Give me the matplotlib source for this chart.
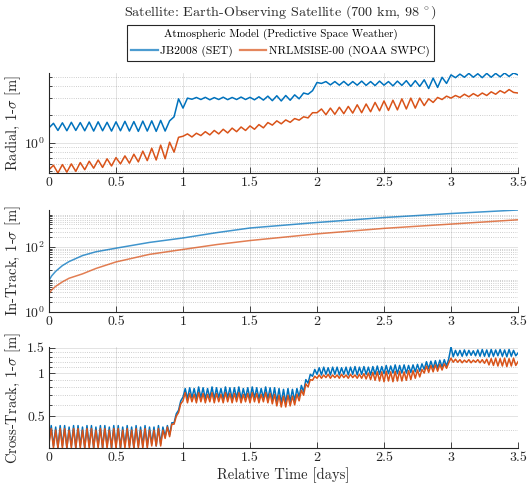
import numpy as np
import matplotlib
matplotlib.use("Agg")
import matplotlib.pyplot as plt
from matplotlib.ticker import FixedLocator, FixedFormatter, NullFormatter
from matplotlib.lines import Line2D

plt.rcParams.update({
    "font.family": "cmr10",
    "mathtext.fontset": "cm",
    "axes.formatter.use_mathtext": True,
    "axes.unicode_minus": False,
})

BLUE = "#0072BD"
ORANGE = "#D95319"
AX_COL = "#262626"

# radial 1-sigma [m], sampled every 1/30 day (half orbit)
radial_dt = 1 / 30
radial_jb = [
    1.45, 1.62, 1.36, 1.64, 1.35, 1.66, 1.36, 1.65, 1.35, 1.67, 1.34, 1.68, 1.35, 1.66,
    1.34, 1.68, 1.35, 1.70, 1.34, 1.69, 1.33, 1.71, 1.34, 1.72, 1.33, 1.74, 1.34, 1.72,
    1.90, 2.95, 2.35, 3.00, 2.92, 3.05,
    2.90, 3.06, 2.88, 3.04, 2.90, 3.07, 2.89, 3.05, 2.90, 3.08, 2.90, 3.06, 2.88, 3.10,
    2.86, 3.15, 2.82, 3.18, 2.80, 3.20, 2.85, 3.25, 2.95, 3.40, 3.30, 3.60,
    4.40, 4.30, 4.50, 4.15, 4.50, 4.12, 4.52, 4.10, 4.50, 4.12, 4.55, 4.10,
    4.50, 4.08, 4.55, 4.12, 4.50, 4.05, 4.55, 4.10, 4.60, 4.00, 4.60, 4.00,
    4.70, 3.80, 4.90, 3.90, 5.00, 4.30,
    5.30, 4.95, 5.40, 5.00, 5.50, 5.00, 5.45, 4.95, 5.50, 5.00, 5.50, 5.05, 5.55, 5.10,
    5.55, 5.30,
]
radial_nrl = [
    0.52, 0.58, 0.48, 0.59, 0.49, 0.60, 0.50, 0.62, 0.52, 0.64, 0.54, 0.66, 0.55, 0.68,
    0.57, 0.70, 0.60, 0.73, 0.61, 0.76, 0.63, 0.82, 0.65, 0.88, 0.66, 0.95, 0.68, 1.02,
    0.80, 1.15, 1.18, 1.25, 1.16, 1.27, 1.20, 1.32, 1.22, 1.36, 1.25, 1.40, 1.28, 1.44,
    1.32, 1.48, 1.36, 1.52, 1.40, 1.57, 1.45, 1.65, 1.55, 1.72, 1.60, 1.76, 1.66, 1.82,
    1.75, 1.90, 1.85, 2.10,
    2.10, 2.30, 2.00, 2.35, 2.02, 2.40, 2.05, 2.45, 2.08, 2.55, 2.10, 2.60, 2.15, 2.70,
    2.20, 2.80, 2.22, 2.85, 2.25, 2.95, 2.30, 3.00, 2.35, 3.00, 2.50, 2.95, 2.70, 3.05,
    2.90, 3.15,
    3.00, 3.20, 3.05, 3.30, 3.10, 3.35, 3.15, 3.40, 3.20, 3.50, 3.30, 3.60, 3.40, 3.70,
    3.45, 3.40,
]

# in-track 1-sigma [m]
intrack_days = [0, 0.02, 0.05, 0.1, 0.15, 0.25, 0.35, 0.5, 0.75, 1.0, 1.25, 1.5, 2.0, 2.5, 3.0, 3.5]
intrack_jb = [9.5, 13, 18, 27, 36, 55, 72, 93, 140, 192, 280, 390, 577, 820, 1090, 1400]
intrack_nrl = [3.7, 4.8, 6.2, 8.5, 11, 15, 22, 35, 60, 85, 120, 160, 257, 380, 515, 700]

# cross-track 1-sigma [m], sampled every 1/60 day
cross_dt = 1 / 60
cross_jb = [
    0.33, 0.43, 0.31, 0.42, 0.30, 0.43, 0.31, 0.43, 0.30, 0.42,
    0.31, 0.43, 0.30, 0.43, 0.31, 0.42, 0.30, 0.43, 0.31, 0.43,
    0.30, 0.42, 0.31, 0.43, 0.30, 0.43, 0.31, 0.42, 0.30, 0.43,
    0.31, 0.43, 0.30, 0.42, 0.31, 0.43, 0.31, 0.42, 0.30, 0.43,
    0.31, 0.42, 0.31, 0.43, 0.31, 0.42, 0.32, 0.42, 0.31, 0.43,
    0.32, 0.42,
    0.36, 0.43, 0.37, 0.45, 0.45, 0.52, 0.55, 0.64, 0.68, 0.78,
    0.66, 0.79, 0.67, 0.78, 0.66, 0.80, 0.67, 0.79, 0.66, 0.78,
    0.67, 0.80, 0.66, 0.79, 0.67, 0.78, 0.66, 0.80, 0.67, 0.79,
    0.66, 0.79, 0.67, 0.80, 0.66, 0.78, 0.67, 0.79, 0.66, 0.80,
    0.67, 0.79, 0.66, 0.78, 0.67, 0.80, 0.66, 0.79, 0.65, 0.79,
    0.63, 0.78, 0.62, 0.77, 0.62, 0.78, 0.63, 0.77, 0.64,
    0.78, 0.68, 0.82, 0.74, 0.90, 0.85, 0.98, 0.95, 1.06, 0.98, 1.09,
    0.97, 1.10, 0.98, 1.09, 0.97, 1.10, 0.98, 1.10, 0.97, 1.09,
    0.98, 1.10, 0.97, 1.10, 0.98, 1.11, 0.97, 1.10, 0.98, 1.11,
    0.98, 1.10, 0.97, 1.11, 0.98, 1.12, 0.98, 1.11,
    0.99, 1.13, 0.99, 1.12, 1.00, 1.14, 0.99, 1.13, 1.00, 1.14,
    1.00, 1.13, 1.01, 1.14, 1.02, 1.15, 1.03, 1.16,
    1.06, 1.20, 1.07, 1.21, 1.08, 1.22, 1.08, 1.23, 1.10, 1.24, 1.12, 1.26,
    1.52, 1.30, 1.44,
    1.32, 1.44, 1.31, 1.45, 1.32, 1.44, 1.33, 1.43, 1.32, 1.45,
    1.31, 1.46, 1.31, 1.45, 1.30, 1.46, 1.31, 1.45, 1.32, 1.46,
    1.31, 1.45, 1.30, 1.46, 1.31, 1.44, 1.32, 1.38,
]
cross_nrl = [
    0.32, 0.41, 0.30, 0.40, 0.30, 0.41, 0.30, 0.41, 0.30, 0.40,
    0.30, 0.41, 0.30, 0.41, 0.30, 0.40, 0.30, 0.41, 0.30, 0.41,
    0.30, 0.40, 0.30, 0.41, 0.30, 0.41, 0.30, 0.40, 0.30, 0.41,
    0.30, 0.41, 0.30, 0.40, 0.30, 0.41, 0.30, 0.40, 0.30, 0.41,
    0.30, 0.40, 0.30, 0.41, 0.30, 0.40, 0.31, 0.40, 0.31, 0.41,
    0.31, 0.40,
    0.35, 0.42, 0.36, 0.44, 0.44, 0.50, 0.53, 0.61, 0.64, 0.73,
    0.62, 0.72, 0.63, 0.71, 0.62, 0.73, 0.63, 0.72, 0.62, 0.71,
    0.63, 0.73, 0.62, 0.72, 0.63, 0.71, 0.62, 0.73, 0.63, 0.72,
    0.62, 0.72, 0.63, 0.73, 0.62, 0.71, 0.63, 0.72, 0.62, 0.73,
    0.63, 0.72, 0.62, 0.71, 0.63, 0.73, 0.62, 0.72, 0.61, 0.71,
    0.59, 0.70, 0.58, 0.69, 0.58, 0.70, 0.59, 0.69, 0.60,
    0.71, 0.64, 0.76, 0.70, 0.84, 0.80, 0.90, 0.89, 0.95, 0.92, 0.97,
    0.92, 0.97, 0.93, 0.98, 0.92, 0.97, 0.93, 0.97, 0.92, 0.98,
    0.93, 0.97, 0.92, 0.98, 0.93, 0.97, 0.92, 0.98, 0.92, 0.99,
    0.91, 1.00, 0.90, 1.01, 0.89, 1.02, 0.88, 1.02,
    0.87, 1.03, 0.88, 1.02, 0.87, 1.03, 0.88, 1.03, 0.88, 1.02,
    0.89, 1.04, 0.90, 1.04, 0.92, 1.05, 0.94, 1.06,
    1.00, 1.12, 1.01, 1.13, 1.02, 1.14, 1.03, 1.15, 1.05, 1.16, 1.08, 1.18,
    1.27, 1.19, 1.25,
    1.19, 1.24, 1.18, 1.23, 1.19, 1.24, 1.18, 1.23, 1.19, 1.24,
    1.18, 1.24, 1.17, 1.25, 1.14, 1.26, 1.13, 1.27, 1.12, 1.26,
    1.12, 1.27, 1.11, 1.26, 1.12, 1.27, 1.13, 1.20,
]

labels = ["JB2008 (SET)", "NRLMSISE-00 (NOAA SWPC)"]
xticks = [0, 0.5, 1, 1.5, 2, 2.5, 3, 3.5]
xticklabels = ["0", "0.5", "1", "1.5", "2", "2.5", "3", "3.5"]

t_rad = np.arange(len(radial_jb)) * radial_dt
t_cross = np.arange(len(cross_jb)) * cross_dt

W, H = 528, 487
fig = plt.figure(figsize=(W / 100, H / 100), dpi=100)


def add_ax(top, bottom):
    return fig.add_axes([49 / W, 1 - bottom / H, (518 - 49) / W, (bottom - top) / H])


ax1 = add_ax(73, 173)
ax2 = add_ax(210, 312)
ax3 = add_ax(347, 448)

lw = 1.1
ax1.plot(t_rad, radial_jb, color=BLUE, lw=lw)
ax1.plot(t_rad, radial_nrl, color=ORANGE, lw=lw)
ax2.plot(intrack_days, intrack_jb, color=BLUE, lw=lw, alpha=0.75)
ax2.plot(intrack_days, intrack_nrl, color=ORANGE, lw=lw, alpha=0.75)
ax3.plot(t_cross, cross_jb, color=BLUE, lw=lw)
ax3.plot(t_cross, cross_nrl, color=ORANGE, lw=lw)

ax1.set_ylim(min(radial_nrl), max(radial_jb))
ax2.set_ylim(1, max(intrack_jb))
ax3.set_ylim(0.30, max(cross_jb))

yticks = [
    (ax1, [1], ["$10^{0}$"], [0.5, 0.6, 0.7, 0.8, 0.9, 2, 3, 4, 5]),
    (ax2, [1, 100], ["$10^{0}$", "$10^{2}$"],
     [m * 10 ** e for e in range(0, 3) for m in range(2, 10)] + [10, 1000]),
    (ax3, [0.5, 1, 1.5], ["0.5", "1", "1.5"],
     [0.3, 0.4, 0.6, 0.7, 0.8, 0.9, 1.1, 1.2, 1.3, 1.4]),
]
for ax, maj, lab, mnr in yticks:
    ax.set_yscale("log")
    ax.yaxis.set_major_locator(FixedLocator(maj))
    ax.yaxis.set_major_formatter(FixedFormatter(lab))
    ax.yaxis.set_minor_locator(FixedLocator(mnr))
    ax.yaxis.set_minor_formatter(NullFormatter())

ylabels = [r"Radial, 1-$\sigma$ [m]", r"In-Track, 1-$\sigma$ [m]", r"Cross-Track, 1-$\sigma$ [m]"]
for ax, yl in zip([ax1, ax2, ax3], ylabels):
    ax.set_xlim(0, 3.5)
    ax.set_xticks(xticks)
    ax.set_xticklabels(xticklabels)
    for s in ["top", "right"]:
        ax.spines[s].set_visible(False)
    for s in ["left", "bottom"]:
        ax.spines[s].set_color(AX_COL)
        ax.spines[s].set_linewidth(0.8)
    ax.tick_params(which="both", direction="in", colors=AX_COL, labelsize=10, width=0.6, pad=3)
    ax.tick_params(which="major", length=4)
    ax.tick_params(which="minor", length=2.5)
    ax.grid(which="major", color=AX_COL, alpha=0.15, lw=0.6)
    ax.grid(which="minor", axis="y", color=AX_COL, alpha=0.3, lw=0.6, ls=":")
    ax.set_axisbelow(True)
    ax.set_ylabel(yl, fontsize=10.5, color=AX_COL)
    ax.yaxis.set_label_coords(-0.056, 0.5)

ax3.set_xlabel("Relative Time [days]", fontsize=10.5, color=AX_COL, labelpad=2)

fig.text(280.5 / W, 1 - 12 / H, r"Satellite: Earth-Observing Satellite (700 km, 98$\,^\circ$)",
         ha="center", va="center", fontsize=10.2, color=AX_COL)

handles = [Line2D([], [], color=BLUE, lw=1.6, alpha=0.7),
           Line2D([], [], color=ORANGE, lw=1.6, alpha=0.7)]
leg = fig.legend(handles, labels, ncol=2, loc="upper center",
                 bbox_to_anchor=(280.5 / W, 1 - 25 / H),
                 title="Atmospheric Model (Predictive Space Weather)",
                 fontsize=8.3, title_fontsize=8, frameon=True, fancybox=False,
                 edgecolor=AX_COL, framealpha=1, handlelength=2.3, handletextpad=0.2,
                 columnspacing=0.6, borderpad=0.35, borderaxespad=0)
leg.get_frame().set_linewidth(0.8)

fig.canvas.draw()
fb = leg.get_frame().get_window_extent()
tb = leg.get_title().get_window_extent()
ysep = tb.y0 - 2
fig.add_artist(Line2D([fb.x0 / W, fb.x1 / W], [ysep / H, ysep / H],
                      transform=fig.transFigure, color=AX_COL, lw=0.8))

fig.savefig("out.png", dpi=100)
